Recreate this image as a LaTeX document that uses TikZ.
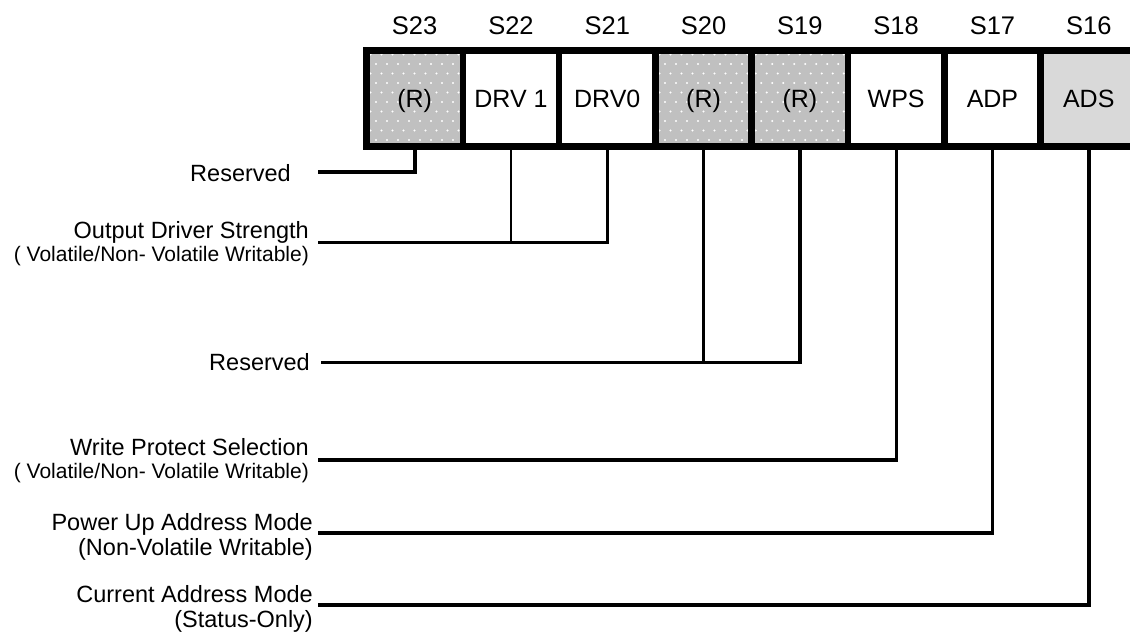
\documentclass[tikz,border=0pt]{standalone}
\usepackage{fontspec}
\setmainfont{Liberation Sans}
\definecolor{rgray}{HTML}{C0C0C0}
\definecolor{lgray}{HTML}{D9D9D9}
\begin{document}
\begin{tikzpicture}[x=1pt,y=-1pt,
  cell/.style={draw, line width=6.5pt, minimum width=96.3pt, minimum height=96pt,
    inner sep=0pt, text height=18pt, text depth=0pt,
    font=\fontsize{25}{25}\selectfont, anchor=center},
  rcell/.style={cell, fill=rgray, path picture={
      \foreach \i in {0,...,9} \foreach \j in {0,2,...,10}
        \fill[white] ([xshift=\i*11pt+4pt, yshift=-\j*9.5pt-4pt]path picture bounding box.north west) circle (1.1pt);
      \foreach \i in {0,...,9} \foreach \j in {1,3,...,11}
        \fill[white] ([xshift=\i*11pt+9.5pt, yshift=-\j*9.5pt-4pt]path picture bounding box.north west) circle (1.1pt);
    }},
  wcell/.style={cell, fill=white},
  scell/.style={cell, fill=lgray},
  bitlbl/.style={anchor=base, inner sep=0pt, font=\fontsize{25.5}{26}\selectfont},
  lbl/.style={anchor=base east, inner sep=0pt, font=\fontsize{23.5}{24}\selectfont},
  sublbl/.style={anchor=base east, inner sep=0pt, font=\fontsize{21}{22}\selectfont},
  conn/.style={line width=3.5pt, line cap=butt, line join=miter},
]
\useasboundingbox (0,0) rectangle (1130,633);

% register cells
\node[rcell] (c23) at (414.65,98.5) {(R)};
\node[wcell] (c22) at (510.95,98.5) {DRV 1};
\node[wcell] (c21) at (607.25,98.5) {DRV0};
\node[rcell] (c20) at (703.55,98.5) {(R)};
\node[rcell] (c19) at (799.85,98.5) {(R)};
\node[wcell] (c18) at (896.15,98.5) {WPS};
\node[wcell] (c17) at (992.45,98.5) {ADP};
\node[scell, text depth=-3pt] (c16) at (1088.75,98.5) {ADS};
\draw[line width=7pt] (366.5,50.5) rectangle (1137,146.5);

% bit labels
\node[bitlbl] (s23) at (414.65,34) {S23};
\node[bitlbl] (s22) at (510.95,34) {S22};
\node[bitlbl] (s21) at (607.25,34) {S21};
\node[bitlbl] (s20) at (703.55,34) {S20};
\node[bitlbl] (s19) at (799.85,34) {S19};
\node[bitlbl] (s18) at (896.15,34) {S18};
\node[bitlbl] (s17) at (992.45,34) {S17};
\node[bitlbl] (s16) at (1088.75,34) {S16};

% labels
\node[lbl] (l1) at (291,181) {Reserved};
\node[lbl] (l2) at (309,238) {Output Driver Strength};
\node[sublbl] (l2b) at (309,261.5) {( Volatile/Non- Volatile Writable)};
\node[lbl] (l3) at (310,370) {Reserved};
\node[lbl] (l4) at (309,455) {Write Protect Selection};
\node[sublbl] (l4b) at (309,478.5) {( Volatile/Non- Volatile Writable)};
\node[lbl] (l5) at (313,530) {Power Up Address Mode};
\node[lbl] (l5b) at (313,555) {(Non-Volatile Writable)};
\node[lbl] (l6) at (313,602) {Current Address Mode};
\node[lbl] (l6b) at (313,627) {(Status-Only)};

% free ends of connectors
\coordinate (e1) at (318,172);
\coordinate (e2) at (318,242.5);
\coordinate (e3) at (321,362.5);
\coordinate (e4) at (318,460);
\coordinate (e5) at (318,533);
\coordinate (e6) at (318,605);

% connectors
\draw[conn, line width=4pt] (c23.south) |- (e1);
\draw[conn, line width=2.6pt] (c22.south) -- (c22.south |- e2);
\draw[conn, line width=2.6pt] (c21.south) |- (e2);
\draw[conn, line width=3.3pt] (c20.south) -- (c20.south |- e3);
\draw[conn, line width=3.8pt] (c19.south) |- (e3);
\draw[conn, line width=3.3pt] (c18.south) |- (e4);
\draw[conn, line width=3.6pt] (c17.south) |- (e5);
\draw[conn, line width=4pt] (c16.south) |- (e6);
\end{tikzpicture}
\end{document}
